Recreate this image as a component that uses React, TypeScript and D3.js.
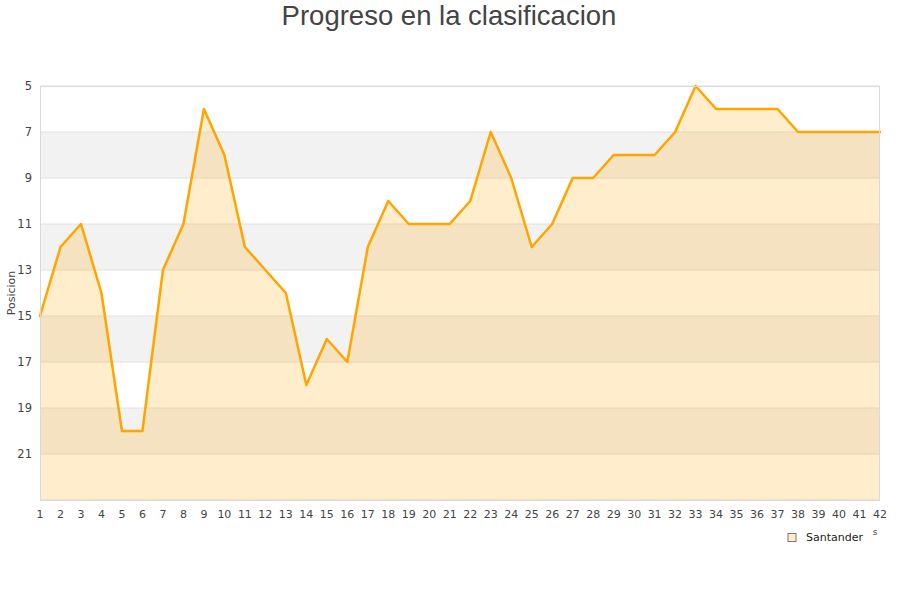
import React from "react";
import * as d3 from "d3";

const jornadas: number[] = Array.from({ length: 42 }, (_, i) => i + 1);
const posiciones: number[] = [
  15, 12, 11, 14, 20, 20, 13, 11, 6, 8,
  12, 13, 14, 18, 16, 17, 12, 10, 11, 11,
  11, 10, 7, 9, 12, 11, 9, 9, 8, 8,
  8, 7, 5, 6, 6, 6, 6, 7, 7, 7,
  7, 7,
];
const yTicks: number[] = [5, 7, 9, 11, 13, 15, 17, 19, 21];
const seriesName = "Santander";
const title = "Progreso en la clasificacion";
const yTitle = "Posicion";

export default function App() {
  const W = 900, H = 600;
  const left = 40, right = 880, top = 86, bottom = 500;
  const x = d3.scaleLinear().domain([1, 42]).range([left, right]);
  const y = d3.scaleLinear().domain([5, 23]).range([top, bottom]);
  const data = jornadas.map((j, i) => ({ j, p: posiciones[i] }));
  const line = d3.line<{ j: number; p: number }>().x(d => x(d.j)).y(d => y(d.p));
  const area = d3.area<{ j: number; p: number }>().x(d => x(d.j)).y0(y(23)).y1(d => y(d.p));
  const bands = d3.range(5, 23, 2);
  const font = "DejaVu Sans, sans-serif";
  return (
    <svg width={W} height={H} style={{ position: "absolute", left: 0, top: 0, background: "#fff" }}>
      <text x={449} y={25} textAnchor="middle" fontFamily="Liberation Sans, Arial, sans-serif" fontSize={27.5} fill="#444">{title}</text>
      {bands.map((b, i) => (
        <rect key={b} x={left} y={y(b)} width={right - left} height={y(b + 2) - y(b)} fill={i % 2 === 1 ? "#f2f2f2" : "#ffffff"} />
      ))}
      {yTicks.concat([23]).map(t => (
        <line key={t} x1={left} x2={right} y1={y(t)} y2={y(t)} stroke="#e0e0e0" strokeWidth={1} />
      ))}
      <path d={area(data) || ""} fill="#ffa500" fillOpacity={0.2} />
      <path d={line(data) || ""} fill="none" stroke="#ffa500" strokeWidth={2.5} strokeLinejoin="round" strokeLinecap="round" />
      <rect x={left + 0.5} y={top + 0.5} width={right - left - 1} height={bottom - top} fill="none" stroke="#d9d9d9" strokeWidth={1} />
      {yTicks.map(t => (
        <text key={t} x={32} y={y(t) + 4} textAnchor="end" fontFamily={font} fontSize={11.5} fill="#444">{t}</text>
      ))}
      {jornadas.map(j => (
        <text key={j} x={x(j)} y={518} textAnchor="middle" fontFamily={font} fontSize={11} fill="#444">{j}</text>
      ))}
      <text transform={`translate(15,${y(14)}) rotate(-90)`} textAnchor="middle" fontFamily={font} fontSize={11} fill="#444">{yTitle}</text>
      <text x={875} y={535} textAnchor="middle" fontFamily={font} fontSize={9} fill="#444">s</text>
      <rect x={788} y={533.5} width={8} height={8} fill="#ffedcc" stroke="#777" strokeWidth={1} />
      <text x={806} y={541} fontFamily={font} fontSize={11} fill="#222">{seriesName}</text>
    </svg>
  );
}
